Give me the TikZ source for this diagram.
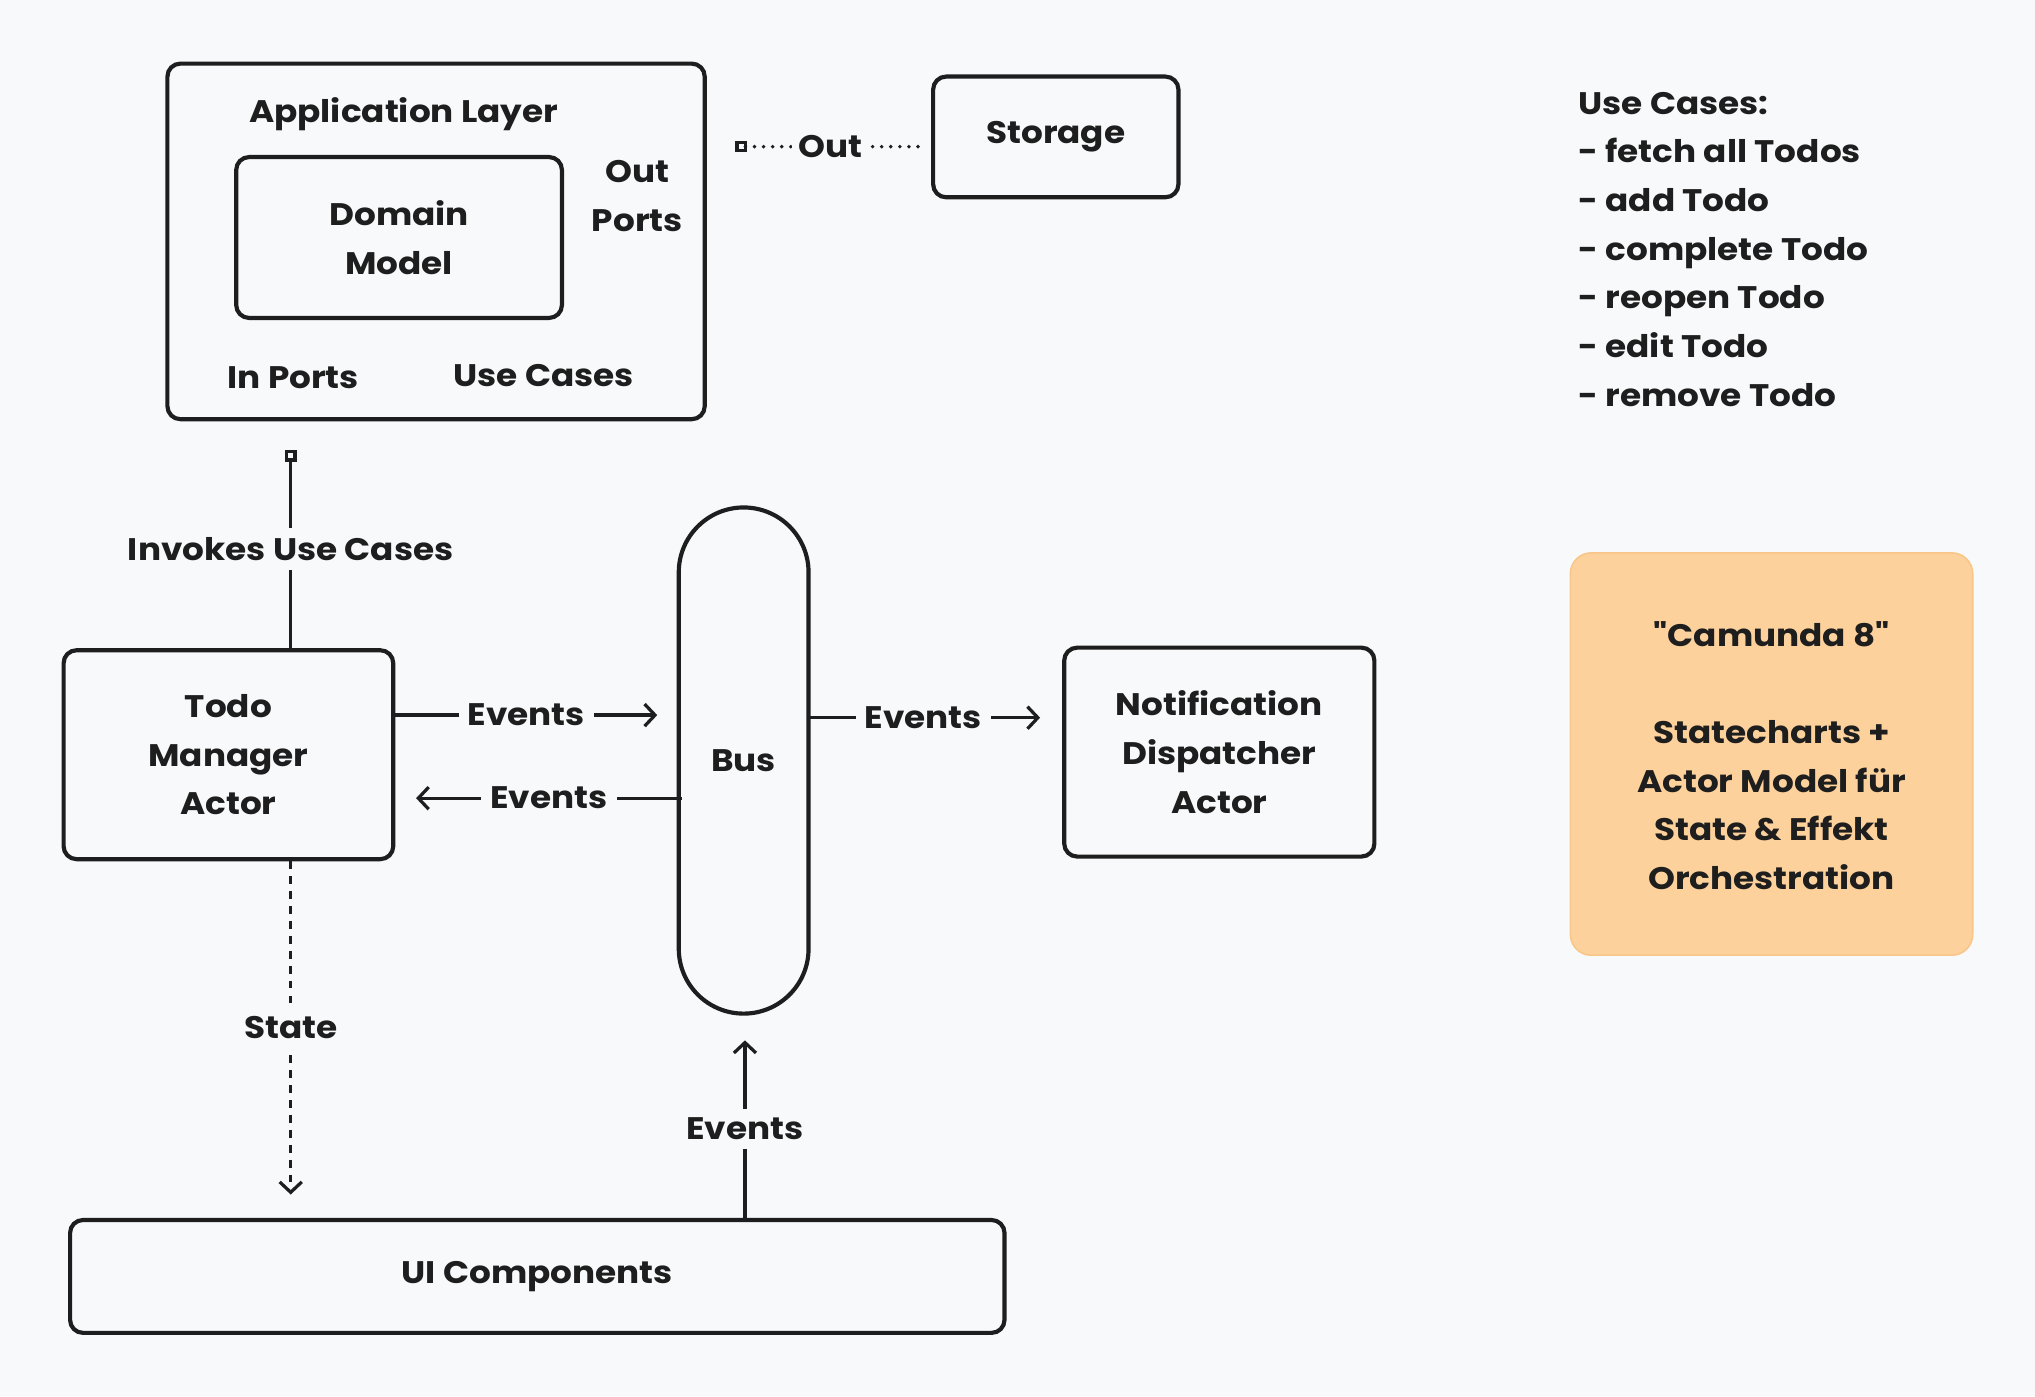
\documentclass[tikz,border=0pt]{standalone}
\usepackage{fontspec}
\setmainfont{Poppins}[Ligatures=TeXOff, FakeStretch=1.1]
\usetikzlibrary{arrows.meta,calc}
\definecolor{bg}{HTML}{F8F9FA}
\definecolor{ink}{HTML}{1E1E1E}
\definecolor{peach}{HTML}{FCD19C}
\definecolor{peachb}{HTML}{F9C68A}
\begin{document}
\begin{tikzpicture}[x=1pt,y=-1pt,
  font=\fontsize{24}{37.5}\selectfont\bfseries, text=ink,
  box/.style={draw=ink, line width=3.2pt, rounded corners=10pt, inner sep=0pt, align=center},
  txt/.style={inner sep=0pt, align=center, text=ink},
  lbl/.style={fill=bg, inner sep=7pt, text=ink},
  conn/.style={draw=ink, line width=2.5pt},
  tip/.style={-{Straight Barb[length=8pt,width=17pt,line width=2.5pt]}},
  sq/.style={{Square[open,length=9pt,width=9pt,line width=2.5pt]}-}]
\fill[bg] (0,0) rectangle (1568,1076);
\useasboundingbox (0,0) rectangle (1568,1076);

% Application layer
\node[box, minimum width=414pt, minimum height=274pt] (app) at (336,186) {};
\node[txt] (applbl) at (311,88) {Application Layer};
\node[box, minimum width=251pt, minimum height=124pt] (dm) at (307.5,183) {Domain\\Model};
\node[txt] (outports) at (491,151) {Out\\Ports};
\node[txt] (inports) at (226,291) {In Ports};
\node[txt] (usecases) at (419,289) {Use Cases};

% Storage
\node[box, minimum width=189pt, minimum height=93pt] (storage) at (813.5,105.5) {Storage};
\coordinate (outsrc) at ([xshift=22pt,yshift=73pt]app.east);
\draw[conn, sq, line width=3pt, line cap=round, dash pattern=on 0pt off 7pt]
  (outsrc) -- ([xshift=-4pt]outsrc -| storage.west)
  node[lbl, midway, inner xsep=5pt] (outlbl) {Out};

% Actors
\node[box, minimum width=254pt, minimum height=161pt] (tm) at (176,581.5) {Todo\\Manager\\Actor};
\node[box, minimum width=100pt, minimum height=390pt, rounded corners=50pt] (bus) at (573,586) {Bus};
\node[box, minimum width=239pt, minimum height=161pt] (nd) at (939.5,579.5) {Notification\\Dispatcher\\Actor};
\node[box, minimum width=720pt, minimum height=87pt] (ui) at (414,983.5) {UI Components};

% Invokes use cases
\coordinate (invsrc) at ([xshift=-112pt,yshift=-22pt]app.south);
\draw[conn, sq] (invsrc) -- (invsrc |- tm.north)
  node[lbl, midway] (invlbl) {Invokes Use Cases};

% Events TM -> Bus
\draw[conn, tip] ([yshift=30.5pt]tm.east) -- ([xshift=-15pt,yshift=35pt]bus.west)
  node[lbl, midway] (ev1) {Events};
% Events Bus -> TM
\draw[conn, tip] ([xshift=4pt,yshift=-29pt]bus.west) -- ([xshift=16pt,yshift=-33.5pt]tm.east)
  node[lbl, midway] (ev2) {Events};
% Events Bus -> ND
\draw[conn, tip] ([xshift=-3pt,yshift=33pt]bus.east) -- ([xshift=-17pt,yshift=26.5pt]nd.west)
  node[lbl, midway] (ev3) {Events};

% State
\coordinate (stsrc) at ([xshift=48pt]tm.south);
\draw[conn, tip, dash pattern=on 6pt off 5.5pt] (stsrc) -- ([yshift=18pt]stsrc |- ui.north)
  node[lbl, midway] (stlbl) {State};

% Events UI -> Bus
\coordinate (uisrc) at ([xshift=1pt]bus.south |- ui.north);
\draw[conn, tip] (uisrc) -- ([xshift=1pt,yshift=-19pt]bus.south)
  node[lbl, midway] (ev4) {Events};

% Use case list
\node[txt, anchor=west, align=left] (uclist) at (1216,192)
  {Use Cases:\\- fetch all Todos\\- add Todo\\- complete Todo\\- reopen Todo\\- edit Todo\\- remove Todo};

% Camunda box
\node[fill=peach, draw=peachb, line width=1.2pt, rounded corners=16pt,
  minimum width=310pt, minimum height=310pt, inner sep=0pt] (cam) at (1365,581) {};
\node[txt] (camtxt) at (1365,582)
  {"Camunda 8"\\[37.5pt]Statecharts +\\Actor Model für\\State \& Effekt\\Orchestration};
\end{tikzpicture}
\end{document}
